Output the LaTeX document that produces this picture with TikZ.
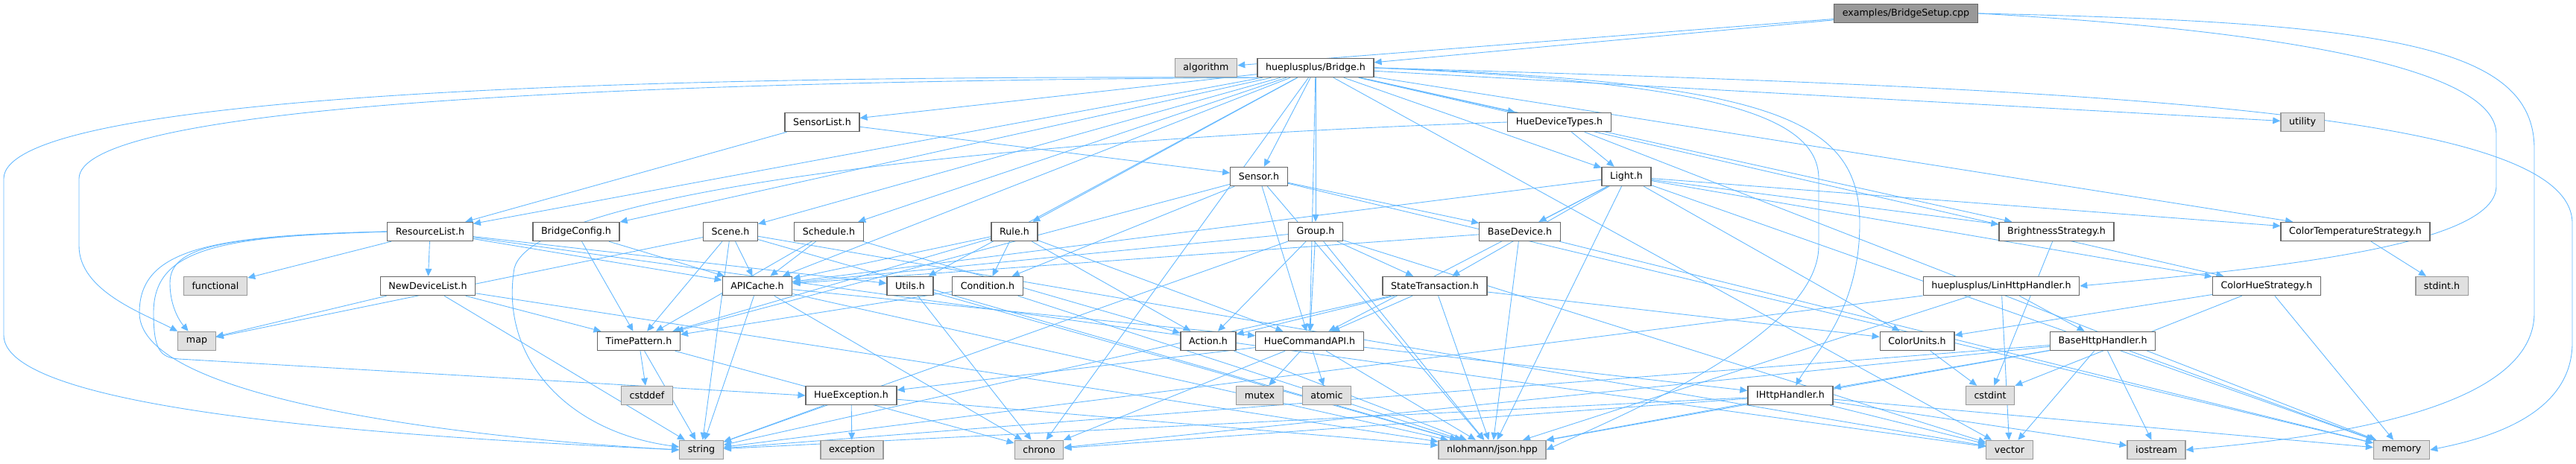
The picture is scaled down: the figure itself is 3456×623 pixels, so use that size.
\documentclass[tikz,border=0pt]{standalone}
\usepackage{fontspec}
\setmainfont{DejaVu Sans}
\usetikzlibrary{arrows.meta, backgrounds}

\definecolor{edgeblue}{RGB}{99,184,255}
\definecolor{hdrline}{RGB}{102,102,102}
\definecolor{sysfill}{RGB}{224,224,224}
\definecolor{sysline}{RGB}{153,153,153}

\begin{document}
\begin{tikzpicture}[x=0.03cm, y=-0.03cm,
    hdr/.style={draw=hdrline, line width=1.1pt, fill=white, font=\fontsize{10.8}{12}\selectfont,
      minimum height=21.5pt, inner xsep=9.5pt, inner ysep=0pt},
    sys/.style={hdr, draw=sysline, fill=sysfill},
    root/.style={hdr, draw=hdrline, fill=sysline},
    dep/.style={draw=edgeblue, line width=0.75pt, -{Triangle[length=8.5pt, width=7.5pt]}}]
  \useasboundingbox (0,0) rectangle (3456,623);

  % row 0 and 1
  \node[root] (setup) at (2557,18) {examples/BridgeSetup.cpp};
  \node[sys] (algorithm) at (1618,91) {algorithm};
  \node[hdr] (bridge) at (1765,91) {hueplusplus/Bridge.h};

  % row 2 and 3
  \node[hdr] (sensorlist) at (1103,164) {SensorList.h};
  \node[hdr] (devtypes) at (2092,164) {HueDeviceTypes.h};
  \node[sys] (utility) at (3089,164) {utility};
  \node[hdr] (sensor) at (1689,237) {Sensor.h};
  \node[hdr] (light) at (2182,237) {Light.h};

  % row 4
  \node[hdr] (reslist) at (577,311) {ResourceList.h};
  \node[hdr] (bcfg) at (773,311) {BridgeConfig.h};
  \node[hdr] (scene) at (980,311) {Scene.h};
  \node[hdr] (schedule) at (1112,311) {Schedule.h};
  \node[hdr] (rule) at (1361,311) {Rule.h};
  \node[hdr] (group) at (1765,311) {Group.h};
  \node[hdr] (basedev) at (2039,311) {BaseDevice.h};
  \node[hdr] (brightness) at (2759,311) {BrightnessStrategy.h};
  \node[hdr] (ctstrat) at (3160,311) {ColorTemperatureStrategy.h};

  % row 5
  \node[sys] (functional) at (289,384) {functional};
  \node[hdr] (newdev) at (574,384) {NewDeviceList.h};
  \node[hdr] (apicache) at (1016,384) {APICache.h};
  \node[hdr] (utils) at (1221,384) {Utils.h};
  \node[hdr] (condition) at (1325,384) {Condition.h};
  \node[hdr] (statetx) at (1925,384) {StateTransaction.h};
  \node[hdr] (linhttp) at (2685,384) {hueplusplus/LinHttpHandler.h};
  \node[hdr] (huestrat) at (3041,384) {ColorHueStrategy.h};
  \node[sys] (stdinth) at (3276,384) {stdint.h};

  % row 6
  \node[sys] (map) at (264,458) {map};
  \node[hdr] (timepattern) at (857,458) {TimePattern.h};
  \node[hdr] (action) at (1621,458) {Action.h};
  \node[hdr] (hcapi) at (1757,458) {HueCommandAPI.h};
  \node[hdr] (colorunits) at (2572,458) {ColorUnits.h};
  \node[hdr] (basehttp) at (2821,458) {BaseHttpHandler.h};

  % row 7
  \node[sys] (cstddef) at (868,531) {cstddef};
  \node[hdr] (hueexc) at (1142,531) {HueException.h};
  \node[sys] (mutex) at (1690,531) {mutex};
  \node[sys] (atomic) at (1780,531) {atomic};
  \node[hdr] (ihttp) at (2402,531) {IHttpHandler.h};
  \node[sys] (cstdint) at (2670,531) {cstdint};

  % row 8
  \node[sys] (string) at (941,604) {string};
  \node[sys] (exception) at (1143,604) {exception};
  \node[sys] (chrono) at (1394,604) {chrono};
  \node[sys] (json) at (2002,604) {nlohmann/json.hpp};
  \node[sys] (vector) at (2696,604) {vector};
  \node[sys] (iostream) at (2893,604) {iostream};
  \node[sys] (memory) at (3222,604) {memory};

  \begin{scope}[on background layer]
    % examples/BridgeSetup.cpp
    \draw[dep] (setup) -- (algorithm);
    \draw[dep] (setup) -- (bridge);
    \draw[dep] (setup.east) .. controls (3050,40) and (3349,90) .. (3349,180) -- (3349,250) .. controls (3349,330) and (3050,360) .. (linhttp.east);
    \draw[dep] (setup.east) .. controls (3200,30) and (3400,60) .. (3400,200) -- (3400,420) .. controls (3400,560) and (3080,590) .. (iostream.east);

    % hueplusplus/Bridge.h
    \draw[dep] (bridge.south west) .. controls (800,100) and (5,130) .. (5,240) -- (5,450) .. controls (5,560) and (620,590) .. (string.west);
    \draw[dep] (bridge.south west) .. controls (700,110) and (106,150) .. (106,240) -- (106,330) .. controls (106,390) and (190,420) .. (map);
    \draw[dep] (bridge.east) .. controls (2850,120) and (3451,150) .. (3451,300) -- (3451,460) .. controls (3451,560) and (3330,590) .. (memory.east);
    \draw[dep] (bridge.east) .. controls (2280,110) and (2440,150) .. (2440,240) -- (2440,330) .. controls (2440,450) and (2170,560) .. (json.east);
    \draw[dep] (bridge.east) .. controls (2380,110) and (2495,160) .. (2495,300) .. controls (2495,420) and (2430,480) .. (ihttp);
    \draw[dep] (bridge) -- (reslist);
    \draw[dep] (bridge) -- (bcfg);
    \draw[dep] (bridge) -- (scene);
    \draw[dep] (bridge) -- (schedule);
    \draw[dep] (bridge) -- (sensorlist);
    \draw[dep] (bridge) -- (sensor);
    \draw[dep] (bridge) -- (rule);
    \draw[dep] (bridge) -- (group);
    \draw[dep] (bridge) -- (devtypes);
    \draw[dep] (bridge) -- (light);
    \draw[dep] (bridge) -- (brightness);
    \draw[dep] (bridge) -- (utility);
    \draw[dep] (bridge) -- (ctstrat);
    \draw[dep] (bridge) -- (huestrat);
    \draw[dep] (bridge) -- (apicache);
    \draw[dep] (bridge) -- (utils);
    \draw[dep] (bridge) -- (hcapi);
    \draw[dep] (bridge) -- (vector);
    \draw[dep] (bridge) -- (chrono);

    % SensorList.h, HueDeviceTypes.h
    \draw[dep] (sensorlist) -- (reslist);
    \draw[dep] (sensorlist) -- (sensor);
    \draw[dep] (devtypes) -- (light);
    \draw[dep] (devtypes) -- (memory);
    \draw[dep] (devtypes.west) .. controls (1400,185) and (720,250) .. (690,360) .. controls (670,480) and (760,580) .. (string);

    % Sensor.h
    \draw[dep] (sensor) -- (basedev);
    \draw[dep] (sensor) -- (hcapi);
    \draw[dep] (sensor) -- (timepattern);
    \draw[dep] (sensor) -- (condition);
    \draw[dep] (sensor) -- (json);
    \draw[dep] (sensor) -- (memory);

    % Light.h
    \draw[dep] (light) -- (basedev);
    \draw[dep] (light) -- (statetx);
    \draw[dep] (light) -- (hcapi);
    \draw[dep] (light) -- (apicache);
    \draw[dep] (light) -- (brightness);
    \draw[dep] (light) -- (huestrat);
    \draw[dep] (light) -- (ctstrat);
    \draw[dep] (light) -- (colorunits);
    \draw[dep] (light) -- (json);
    \draw[dep] (light) -- (memory);

    % ResourceList.h
    \draw[dep] (reslist) -- (functional);
    \draw[dep] (reslist.west) .. controls (300,318) and (228,330) .. (228,380) .. controls (228,410) and (240,430) .. (map);
    \draw[dep] (reslist.west) .. controls (280,316) and (187,335) .. (187,420) .. controls (187,540) and (650,590) .. (string.west);
    \draw[dep] (reslist.west) .. controls (290,317) and (206,335) .. (206,420) .. controls (206,470) and (215,480) .. (240,482) -- (hueexc.west);
    \draw[dep] (reslist) -- (newdev);
    \draw[dep] (reslist) -- (apicache);
    \draw[dep] (reslist) -- (utils);
    \draw[dep] (reslist) -- (vector);

    % BridgeConfig.h, Scene.h, Schedule.h
    \draw[dep] (bcfg) -- (apicache);
    \draw[dep] (bcfg) -- (timepattern);
    \draw[dep] (scene) -- (map);
    \draw[dep] (scene) -- (string);
    \draw[dep] (scene) -- (vector);
    \draw[dep] (scene) -- (apicache);
    \draw[dep] (scene) -- (timepattern);
    \draw[dep] (scene) -- (json);
    \draw[dep] (schedule) -- (apicache);
    \draw[dep] (schedule) -- (action);
    \draw[dep] (schedule) -- (timepattern);

    % Rule.h, Group.h, BaseDevice.h
    \draw[dep] (rule) -- (apicache);
    \draw[dep] (rule) -- (action);
    \draw[dep] (rule) -- (condition);
    \draw[dep] (rule) -- (hcapi);
    \draw[dep] (rule) -- (timepattern);
    \draw[dep] (group) -- (apicache);
    \draw[dep] (group) -- (action);
    \draw[dep] (group) -- (hcapi);
    \draw[dep] (group) -- (statetx);
    \draw[dep] (group) -- (string);
    \draw[dep] (group) -- (vector);
    \draw[dep] (group) -- (json);
    \draw[dep] (basedev) -- (apicache);
    \draw[dep] (basedev) -- (json);
    \draw[dep] (basedev) -- (memory);

    % strategies
    \draw[dep] (brightness) -- (cstdint);
    \draw[dep] (ctstrat) -- (stdinth);
    \draw[dep] (huestrat) -- (colorunits);
    \draw[dep] (huestrat) -- (cstdint);
    \draw[dep] (huestrat) -- (memory);
    \draw[dep] (colorunits) -- (cstdint);

    % NewDeviceList.h, APICache.h, Utils.h, Condition.h
    \draw[dep] (newdev) -- (map);
    \draw[dep] (newdev) -- (string);
    \draw[dep] (newdev) -- (timepattern);
    \draw[dep] (newdev) -- (json);
    \draw[dep] (apicache) -- (hcapi);
    \draw[dep] (apicache) -- (string);
    \draw[dep] (apicache) -- (chrono);
    \draw[dep] (apicache) -- (json);
    \draw[dep] (utils) -- (chrono);
    \draw[dep] (utils) -- (json);
    \draw[dep] (condition) -- (timepattern);
    \draw[dep] (condition) -- (json);

    % StateTransaction.h
    \draw[dep] (statetx) -- (action);
    \draw[dep] (statetx) -- (colorunits);
    \draw[dep] (statetx) -- (hcapi);
    \draw[dep] (statetx) -- (json);
    \draw[dep] (statetx) -- (string);

    % TimePattern.h, Action.h, HueCommandAPI.h, HueException.h
    \draw[dep] (timepattern) -- (cstddef);
    \draw[dep] (timepattern) -- (string);
    \draw[dep] (timepattern) -- (chrono);
    \draw[dep] (action) -- (json);
    \draw[dep] (hcapi) -- (atomic);
    \draw[dep] (hcapi) -- (mutex);
    \draw[dep] (hcapi) -- (chrono);
    \draw[dep] (hcapi) -- (hueexc);
    \draw[dep] (hcapi) -- (ihttp);
    \draw[dep] (hcapi) -- (json);
    \draw[dep] (hueexc) -- (exception);
    \draw[dep] (hueexc) -- (string);
    \draw[dep] (hueexc) -- (json);

    % http handlers
    \draw[dep] (linhttp) -- (basehttp);
    \draw[dep] (linhttp) -- (string);
    \draw[dep] (linhttp) -- (vector);
    \draw[dep] (linhttp) -- (json);
    \draw[dep] (basehttp) -- (ihttp);
    \draw[dep] (basehttp) -- (iostream);
    \draw[dep] (basehttp) -- (memory);
    \draw[dep] (basehttp) -- (string);
    \draw[dep] (basehttp) -- (vector);
    \draw[dep] (basehttp) -- (json);
    \draw[dep] (basehttp) -- (chrono);
    \draw[dep] (ihttp) -- (chrono);
    \draw[dep] (ihttp) -- (iostream);
    \draw[dep] (ihttp) -- (memory);
    \draw[dep] (ihttp) -- (string);
    \draw[dep] (ihttp) -- (vector);
    \draw[dep] (ihttp) -- (json);
  \end{scope}
\end{tikzpicture}
\end{document}
